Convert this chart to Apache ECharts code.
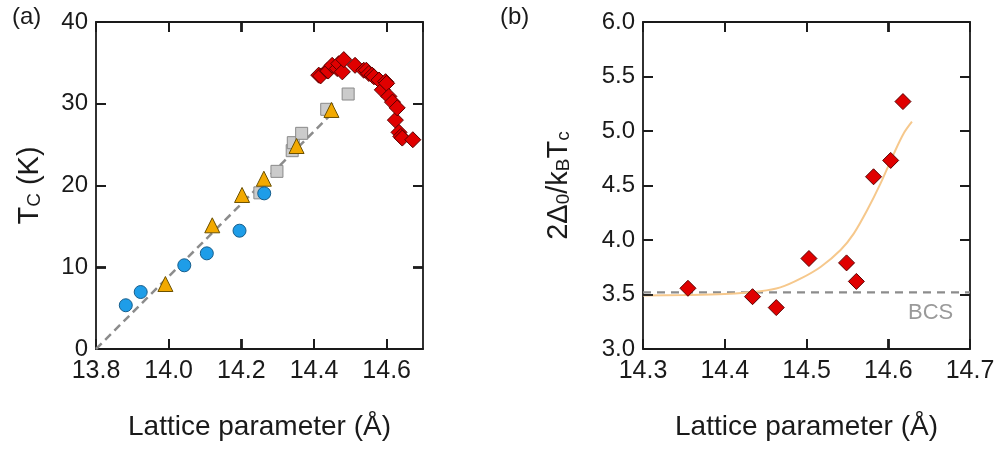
<!DOCTYPE html>
<html><head><meta charset="utf-8">
<script src="https://cdn.jsdelivr.net/npm/echarts@6/dist/echarts.min.js"></script>
<style>html,body{margin:0;padding:0;background:#fff}#c{width:1002px;height:449px}</style>
</head><body><div id="c"></div>
<script>
// Panel (a): Tc vs lattice parameter
const circleX = [13.882, 13.923, 14.043, 14.105, 14.195, 14.263];
const circleY = [5.35, 6.97, 10.24, 11.7, 14.47, 19.04];
const triX = [13.991, 14.12, 14.202, 14.262, 14.352, 14.448];
const triY = [7.95, 15.13, 18.84, 20.83, 24.83, 29.24];
const squareX = [14.251, 14.298, 14.34, 14.343, 14.366, 14.435, 14.494];
const squareY = [19.1, 21.73, 24.26, 25.24, 26.38, 29.32, 31.19];
const diamondAX = [14.413, 14.418, 14.436, 14.439, 14.45, 14.464, 14.468, 14.478, 14.482, 14.513, 14.537, 14.544, 14.551, 14.56, 14.565, 14.579, 14.588, 14.597, 14.6, 14.606, 14.616, 14.624, 14.629, 14.634, 14.639, 14.643, 14.672];
const diamondAY = [33.5, 33.4, 34.05, 34.0, 34.7, 34.3, 34.9, 33.9, 35.4, 34.7, 34.1, 34.1, 33.7, 33.5, 33.3, 32.9, 31.7, 32.7, 32.5, 30.9, 30.2, 28.0, 29.5, 26.5, 26.0, 25.8, 25.6];
const guideAX = [13.8, 14.44];
const guideAY = [0, 28.4];
const xTicksA = [13.8, 14.7, 0.2];
const yTicksA = [0, 40, 10];
const xTickValsA = [14.0, 14.2, 14.4, 14.6];
const yTickValsA = [10, 20, 30];

// Panel (b): 2Δ0/kBTc vs lattice parameter
const diamondBX = [14.355, 14.434, 14.463, 14.503, 14.549, 14.561, 14.582, 14.603, 14.618];
const diamondBY = [3.557, 3.48, 3.38, 3.83, 3.79, 3.62, 4.58, 4.73, 5.27];
const fitX = [14.3, 14.35, 14.4, 14.4436, 14.468, 14.4926, 14.5176, 14.5417, 14.558, 14.5743, 14.5906, 14.607, 14.619, 14.629];
const fitY = [3.49, 3.495, 3.505, 3.53, 3.565, 3.645, 3.755, 3.908, 4.061, 4.275, 4.52, 4.795, 4.979, 5.085];
const bcsX = [14.3, 14.7];
const bcsY = [3.52, 3.52];
const xTicksB = [14.3, 14.7, 0.1];
const yTicksB = [3.0, 6.0, 0.5];
const xTickValsB = [14.4, 14.5, 14.6];
const yTickValsB = [3.5, 4.0, 4.5, 5.0, 5.5];

const zip = (a, b) => a.map((v, i) => [v, b[i]]);
const FONT = '"Liberation Sans", Arial, Helvetica, sans-serif';
const INK = '#1a1a1a';
const TICK_LEN = 10;

function tickCfg() {
  return { show: true, inside: true, length: TICK_LEN, lineStyle: { color: INK, width: 1.8 } };
}
function xAx(grid, t, pos, showLabel, name) {
  return {
    type: 'value', gridIndex: grid, position: pos,
    min: t[0], max: t[1], interval: t[2],
    axisLine: { show: true, onZero: false, lineStyle: { color: INK, width: 1.8 } },
    axisTick: tickCfg(),
    splitLine: { show: false },
    axisLabel: { show: showLabel, margin: 10, fontSize: 25, color: INK, fontFamily: FONT,
      showMaxLabel: t[2] === 0.1, formatter: v => v.toFixed(1) },
    name: name || '', nameLocation: 'middle', nameGap: 64,
    nameTextStyle: { fontSize: 28, color: INK, fontFamily: FONT }
  };
}
const richName = {
  m: { fontSize: 29, color: INK, fontFamily: FONT },
  s: { fontSize: 19, color: INK, fontFamily: FONT, verticalAlign: 'bottom' }
};
function yAx(grid, t, pos, showLabel, fmt, name, gap) {
  const ax = {
    type: 'value', gridIndex: grid, position: pos,
    min: t[0], max: t[1], interval: t[2],
    axisLine: { show: true, onZero: false, lineStyle: { color: INK, width: 1.8 } },
    axisTick: tickCfg(),
    splitLine: { show: false },
    axisLabel: { show: showLabel, margin: 8, fontSize: 24, color: INK, fontFamily: FONT, formatter: fmt }
  };
  if (name) {
    ax.name = name; ax.nameLocation = 'middle'; ax.nameGap = gap; ax.nameRotate = 90;
    ax.nameTextStyle = { fontSize: 29, color: INK, fontFamily: FONT, rich: richName };
  }
  return ax;
}

const textGraphics = [
  { type: 'text', left: 12, top: 5, style: { text: '(a)', fontSize: 24, fill: INK, fontFamily: FONT } },
  { type: 'text', left: 500, top: 5, style: { text: '(b)', fontSize: 24, fill: INK, fontFamily: FONT } },
  { type: 'text', left: 908, top: 302, style: { text: 'BCS', fontSize: 22, fill: '#9a9a9a', fontFamily: FONT } }
];

const chart = echarts.init(document.getElementById('c'), null, { renderer: 'canvas' });
chart.setOption({
  backgroundColor: '#fff',
  animation: false,
  grid: [
    { left: 96, top: 22, width: 327, height: 327 },
    { left: 643, top: 22, width: 327, height: 327 }
  ],
  xAxis: [
    xAx(0, xTicksA, 'bottom', true, 'Lattice parameter (Å)'),
    xAx(0, xTicksA, 'top', false),
    xAx(1, xTicksB, 'bottom', true, 'Lattice parameter (Å)'),
    xAx(1, xTicksB, 'top', false)
  ],
  yAxis: [
    yAx(0, yTicksA, 'left', true, v => String(v), '{m|T}{s|C}{m| (K)}', 52),
    yAx(0, yTicksA, 'right', false, v => String(v)),
    yAx(1, yTicksB, 'left', true, v => v.toFixed(1), '{m|2Δ}{s|0}{m|/k}{s|B}{m|T}{s|c}', 70),
    yAx(1, yTicksB, 'right', false, v => v.toFixed(1))
  ],
  series: [
    { type: 'line', xAxisIndex: 0, yAxisIndex: 0, data: zip(guideAX, guideAY), symbol: 'none', z: 1,
      lineStyle: { color: '#8c8c8c', width: 2.5, type: [8, 5] } },
    { type: 'scatter', xAxisIndex: 0, yAxisIndex: 0, data: zip(squareX, squareY), symbol: 'rect', symbolSize: 12, z: 2,
      itemStyle: { color: '#cbcbcb', borderColor: '#8a8a8a', borderWidth: 1, opacity: 1 } },
    { type: 'scatter', xAxisIndex: 0, yAxisIndex: 0, data: zip(triX, triY), symbol: 'triangle', symbolSize: 15, z: 3,
      itemStyle: { color: '#f2a900', borderColor: '#6b5000', borderWidth: 1, opacity: 1 } },
    { type: 'scatter', xAxisIndex: 0, yAxisIndex: 0, data: zip(circleX, circleY), symbol: 'circle', symbolSize: 13, z: 4,
      itemStyle: { color: '#1e9de8', borderColor: '#175e8c', borderWidth: 1, opacity: 1 } },
    { type: 'scatter', xAxisIndex: 0, yAxisIndex: 0, data: zip(diamondAX, diamondAY), symbol: 'diamond', symbolSize: 16, z: 5,
      itemStyle: { color: '#e00000', borderColor: '#5a0000', borderWidth: 1, opacity: 1 } },

    { type: 'line', xAxisIndex: 2, yAxisIndex: 2, data: zip(bcsX, bcsY), symbol: 'none', z: 1,
      lineStyle: { color: '#8c8c8c', width: 2.2, type: [8, 6] } },
    { type: 'line', xAxisIndex: 2, yAxisIndex: 2, data: zip(fitX, fitY), symbol: 'none', smooth: 0.3, z: 2,
      lineStyle: { color: '#f6c88c', width: 2 } },
    { type: 'scatter', xAxisIndex: 2, yAxisIndex: 2, data: zip(diamondBX, diamondBY), symbol: 'diamond', symbolSize: 16, z: 5,
      itemStyle: { color: '#e00000', borderColor: '#5a0000', borderWidth: 1, opacity: 1 } }
  ],
  graphic: textGraphics
});

// Inward ticks on all four sides of each frame, located through the axes' own scales
function tickLines(xi, yi, xr, yr, xVals, yVals) {
  const els = [];
  const finder = { xAxisIndex: xi, yAxisIndex: yi };
  const bl = chart.convertToPixel(finder, [xr[0], yr[0]]);
  const tr = chart.convertToPixel(finder, [xr[1], yr[1]]);
  const st = { stroke: INK, lineWidth: 1.8 };
  xVals.forEach(v => {
    const x = Math.round(chart.convertToPixel(finder, [v, yr[0]])[0]);
    els.push({ type: 'line', z: 100, silent: true, shape: { x1: x, y1: bl[1], x2: x, y2: bl[1] - TICK_LEN }, style: st });
    els.push({ type: 'line', z: 100, silent: true, shape: { x1: x, y1: tr[1], x2: x, y2: tr[1] + TICK_LEN }, style: st });
  });
  yVals.forEach(v => {
    const y = Math.round(chart.convertToPixel(finder, [xr[0], v])[1]);
    els.push({ type: 'line', z: 100, silent: true, shape: { x1: bl[0], y1: y, x2: bl[0] + TICK_LEN, y2: y }, style: st });
    els.push({ type: 'line', z: 100, silent: true, shape: { x1: tr[0], y1: y, x2: tr[0] - TICK_LEN, y2: y }, style: st });
  });
  return els;
}
try {
  const ticks = tickLines(0, 0, xTicksA, yTicksA, xTickValsA, yTickValsA)
    .concat(tickLines(2, 2, xTicksB, yTicksB, xTickValsB, yTickValsB));
  chart.setOption({ graphic: textGraphics.concat(ticks) });
} catch (e) { console.error(e); }
</script>
</body></html>
